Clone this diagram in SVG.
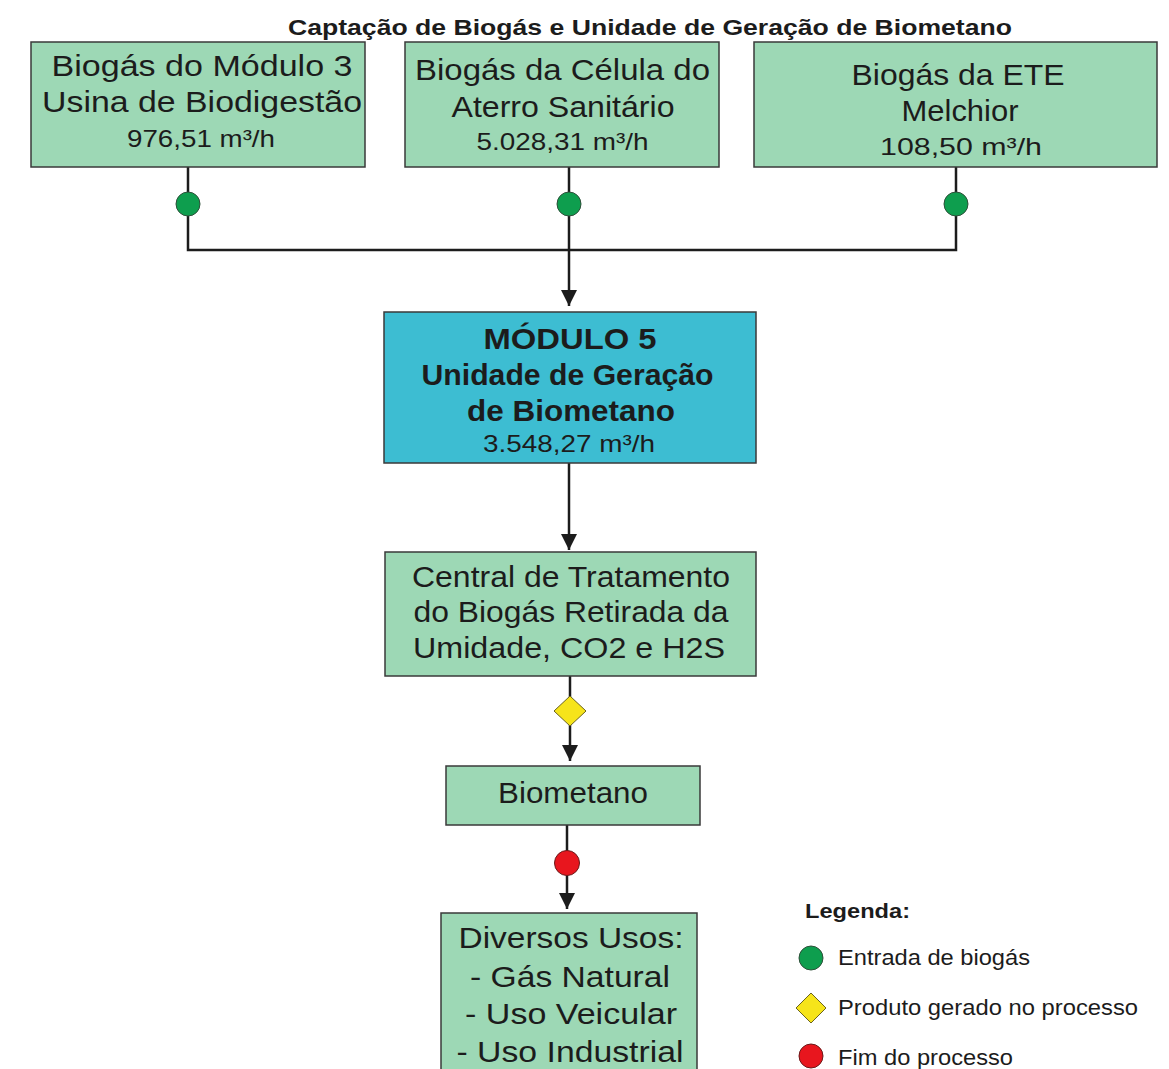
<svg xmlns="http://www.w3.org/2000/svg" width="1169" height="1069" viewBox="0 0 1169 1069">
<defs>
<style>
.box{fill:#9dd8b5;stroke:#3a3a3a;stroke-width:1.5}
.blue{fill:#3dbdd2;stroke:#3a3a3a;stroke-width:1.5}
.t{font-family:"Liberation Sans",Arial,sans-serif;fill:#1c1c1c;text-anchor:middle;font-size:30px}
.s{font-size:24px}
.b{font-weight:bold}
.lg{font-family:"Liberation Sans",Arial,sans-serif;fill:#1c1c1c;font-size:22px}
.ln{fill:none;stroke:#1c1c1c;stroke-width:2.5}
.gc{fill:#0e9e4e;stroke:#2f4f3a;stroke-width:1}
.rc{fill:#e8161e;stroke:#6a1a1a;stroke-width:1}
.yd{fill:#f6e41a;stroke:#6a6320;stroke-width:1}
</style>
<marker id="ah" viewBox="0 0 10 10" refX="10" refY="5" markerWidth="6.5" markerHeight="6.5" orient="auto" markerUnits="strokeWidth">
<path d="M0,0 L10,5 L0,10 Z" fill="#1c1c1c"/>
</marker>
</defs>
<rect width="1169" height="1069" fill="#ffffff"/>
<text class="t b" x="650" y="35" style="font-size:22.5px" textLength="724" lengthAdjust="spacingAndGlyphs">Captação de Biogás e Unidade de Geração de Biometano</text>

<g id="connectors">
<path class="ln" d="M188,167 V250 H956 V167"/>
<path class="ln" d="M569,167 V306" marker-end="url(#ah)"/>
<path class="ln" d="M569,463 V550" marker-end="url(#ah)"/>
<path class="ln" d="M570,676 V761" marker-end="url(#ah)"/>
<path class="ln" d="M567,825 V909" marker-end="url(#ah)"/>
<circle class="gc" cx="188" cy="204" r="12"/>
<circle class="gc" cx="569" cy="204" r="12"/>
<circle class="gc" cx="956" cy="204" r="12"/>
<path class="yd" d="M570,696 L586,711 L570,726 L554,711 Z"/>
<circle class="rc" cx="567" cy="863" r="12.5"/>
</g>

<g id="node-modulo3">
<rect class="box" x="31" y="42" width="334" height="125"/>
<text class="t" x="202" y="76" textLength="301" lengthAdjust="spacingAndGlyphs">Biogás do Módulo 3</text>
<text class="t" x="202" y="112" textLength="320" lengthAdjust="spacingAndGlyphs">Usina de Biodigestão</text>
<text class="t s" x="201" y="147" textLength="148" lengthAdjust="spacingAndGlyphs">976,51 m³/h</text>
</g>

<g id="node-aterro">
<rect class="box" x="405" y="42" width="314" height="125"/>
<text class="t" x="562.5" y="80" textLength="295" lengthAdjust="spacingAndGlyphs">Biogás da Célula do</text>
<text class="t" x="563" y="117" textLength="223" lengthAdjust="spacingAndGlyphs">Aterro Sanitário</text>
<text class="t s" x="562.5" y="150" textLength="172" lengthAdjust="spacingAndGlyphs">5.028,31 m³/h</text>
</g>

<g id="node-ete">
<rect class="box" x="754" y="42" width="403" height="125"/>
<text class="t" x="958" y="85" textLength="213" lengthAdjust="spacingAndGlyphs">Biogás da ETE</text>
<text class="t" x="960" y="121" textLength="117" lengthAdjust="spacingAndGlyphs">Melchior</text>
<text class="t s" x="961" y="155" textLength="162" lengthAdjust="spacingAndGlyphs">108,50 m³/h</text>
</g>

<g id="node-modulo5">
<rect class="blue" x="384" y="312" width="372" height="151"/>
<text class="t b" x="570" y="349" textLength="173" lengthAdjust="spacingAndGlyphs">MÓDULO 5</text>
<text class="t b" x="567.5" y="385" textLength="292" lengthAdjust="spacingAndGlyphs">Unidade de Geração</text>
<text class="t b" x="571" y="421" textLength="208" lengthAdjust="spacingAndGlyphs">de Biometano</text>
<text class="t s" x="569" y="452" textLength="172" lengthAdjust="spacingAndGlyphs">3.548,27 m³/h</text>
</g>

<g id="node-central">
<rect class="box" x="385" y="552" width="371" height="124"/>
<text class="t" x="571" y="587" textLength="318" lengthAdjust="spacingAndGlyphs">Central de Tratamento</text>
<text class="t" x="571" y="622" textLength="315" lengthAdjust="spacingAndGlyphs">do Biogás Retirada da</text>
<text class="t" x="569" y="658" textLength="312" lengthAdjust="spacingAndGlyphs">Umidade, CO2 e H2S</text>
</g>

<g id="node-biometano">
<rect class="box" x="446" y="766" width="254" height="59"/>
<text class="t" x="573" y="803" textLength="150" lengthAdjust="spacingAndGlyphs">Biometano</text>
</g>

<g id="node-usos">
<rect class="box" x="441" y="913" width="256" height="170"/>
<text class="t" x="571" y="948" textLength="225" lengthAdjust="spacingAndGlyphs">Diversos Usos:</text>
<text class="t" x="570" y="987" textLength="200" lengthAdjust="spacingAndGlyphs">- Gás Natural</text>
<text class="t" x="571" y="1024" textLength="212" lengthAdjust="spacingAndGlyphs">- Uso Veicular</text>
<text class="t" x="570" y="1062" textLength="227" lengthAdjust="spacingAndGlyphs">- Uso Industrial</text>
</g>

<g id="legend">
<text class="lg b" x="805" y="918" style="font-size:21px" textLength="105" lengthAdjust="spacingAndGlyphs">Legenda:</text>
<circle class="gc" cx="811" cy="958" r="12"/>
<text class="lg" x="838" y="965" textLength="192" lengthAdjust="spacingAndGlyphs">Entrada de biogás</text>
<path class="yd" d="M811,993 L826,1008 L811,1023 L796,1008 Z"/>
<text class="lg" x="838" y="1015" textLength="300" lengthAdjust="spacingAndGlyphs">Produto gerado no processo</text>
<circle class="rc" cx="811" cy="1056" r="12"/>
<text class="lg" x="838" y="1065" textLength="175" lengthAdjust="spacingAndGlyphs">Fim do processo</text>
</g>
</svg>
